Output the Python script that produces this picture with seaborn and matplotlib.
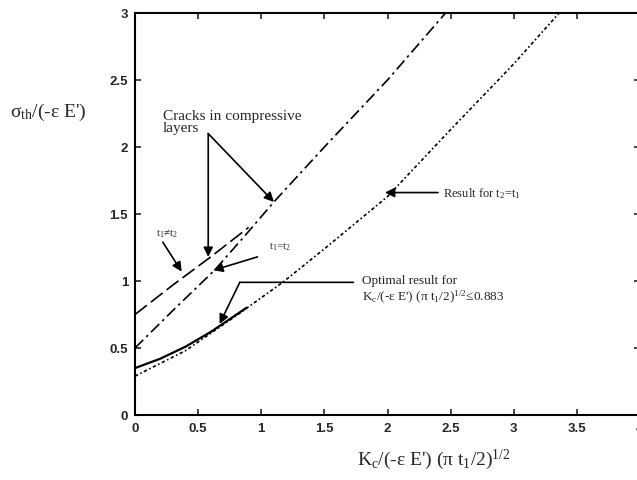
import matplotlib
matplotlib.use("Agg")
import matplotlib.pyplot as plt
import seaborn as sns

# curve values
x_neq = [0.0, 0.3, 0.6, 0.9]
y_neq = [0.75, 0.97, 1.18, 1.40]

x_eq = [0.0, 0.3, 0.63, 0.9, 1.1, 1.5, 2.0, 2.46]
y_eq = [0.50, 0.78, 1.08, 1.37, 1.59, 2.0, 2.5, 3.0]

x_res = [0.0, 0.4, 0.8, 1.17, 1.5, 2.0, 2.5, 3.0, 3.36]
y_res = [0.29, 0.48, 0.74, 0.99, 1.24, 1.63, 2.13, 2.62, 3.0]

x_opt = [0.0, 0.2, 0.4, 0.6, 0.883]
y_opt = [0.35, 0.42, 0.51, 0.62, 0.80]

x_ticks = [0, 0.5, 1, 1.5, 2, 2.5, 3, 3.5, 4]
x_ticklabels = ["0", "0.5", "1", "1.5", "2", "2.5", "3", "3.5", "4"]
y_ticks = [0, 0.5, 1, 1.5, 2, 2.5, 3]
y_ticklabels = ["0", "0.5", "1", "1.5", "2", "2.5", "3"]

sns.set_theme(style="ticks")
plt.rcParams["font.family"] = ["Liberation Serif", "DejaVu Serif"]
plt.rcParams["mathtext.fontset"] = "custom"
plt.rcParams["mathtext.rm"] = "Liberation Serif"
plt.rcParams["mathtext.it"] = "Liberation Serif:italic"

fig = plt.figure(figsize=(6.37, 4.81), dpi=100)
ax = fig.add_axes([135 / 637, 65 / 481, 505 / 637, 402 / 481])

lw = 1.2
sns.lineplot(x=x_neq, y=y_neq, ax=ax, color="black", lw=lw, sort=False,
             estimator=None, linestyle=(0, (9, 3)))
sns.lineplot(x=x_eq, y=y_eq, ax=ax, color="black", lw=lw, sort=False,
             estimator=None, linestyle=(0, (7, 2.5, 1.5, 2.5)))
sns.lineplot(x=x_res, y=y_res, ax=ax, color="black", lw=lw, sort=False,
             estimator=None, linestyle=(0, (2, 1.5, 1, 1.5)))
sns.lineplot(x=x_opt, y=y_opt, ax=ax, color="black", lw=1.6, sort=False,
             estimator=None)

ax.set_xlim(0, 4)
ax.set_ylim(0, 3)
ax.set_xticks(x_ticks)
ax.set_xticklabels(x_ticklabels)
ax.set_yticks(y_ticks)
ax.set_yticklabels(y_ticklabels)
ax.tick_params(direction="in", length=4, width=1.2, top=True, right=True,
               labelsize=9.5, pad=5)
for lab in ax.get_xticklabels() + ax.get_yticklabels():
    lab.set_family("Liberation Sans")
    lab.set_fontweight("bold")
for sp in ax.spines.values():
    sp.set_linewidth(1.5)
    sp.set_color("black")
ax.set_xlabel("")
ax.set_ylabel("")

arrow = dict(arrowstyle="-|>", color="black", lw=1.2, mutation_scale=14,
             shrinkA=0, shrinkB=0)
plain = dict(arrowstyle="-", color="black", lw=1.2, shrinkA=0, shrinkB=0)

# cracks in compressive layers
ax.text(0.22, 2.19, "Cracks in compressive\nlayers", fontsize=11,
        ha="left", va="center", linespacing=0.95)
ax.annotate("", xy=(0.58, 1.18), xytext=(0.58, 2.10), arrowprops=arrow)
ax.annotate("", xy=(1.1, 1.59), xytext=(0.58, 2.10), arrowprops=arrow)

# t1 != t2
ax.text(0.25, 1.36, "t$_1$≠t$_2$", fontsize=8, ha="center", va="center")
ax.annotate("", xy=(0.37, 1.07), xytext=(0.22, 1.29), arrowprops=arrow)

# t1 = t2
ax.text(1.15, 1.26, "t$_1$=t$_2$", fontsize=8, ha="center", va="center")
ax.annotate("", xy=(0.62, 1.08), xytext=(0.97, 1.18), arrowprops=arrow)

# result for t2 = t1
ax.text(2.44, 1.66, "Result for t$_2$=t$_1$", fontsize=9, ha="left",
        va="center")
ax.annotate("", xy=(1.98, 1.66), xytext=(2.40, 1.66), arrowprops=arrow)

# optimal result
ax.text(1.80, 1.05,
        "Optimal result for\nK$_\\mathrm{c}$/(-ε E') (π t$_1$/2)$^{1/2}$≤0.883",
        fontsize=9.5, ha="left", va="top", linespacing=1.1)
ax.annotate("", xy=(0.83, 0.99), xytext=(1.73, 0.99), arrowprops=plain)
ax.annotate("", xy=(0.67, 0.68), xytext=(0.83, 0.99), arrowprops=arrow)

fig.text(10 / 637, 1 - 112 / 481, "σ$_\\mathrm{th}$/(-ε E')", fontsize=14,
         ha="left", va="center")
fig.text(434 / 637, 1 - 460 / 481,
         "K$_\\mathrm{c}$/(-ε E') (π t$_1$/2)$^{1/2}$", fontsize=14,
         ha="center", va="center")

fig.savefig("out.png", dpi=100)
